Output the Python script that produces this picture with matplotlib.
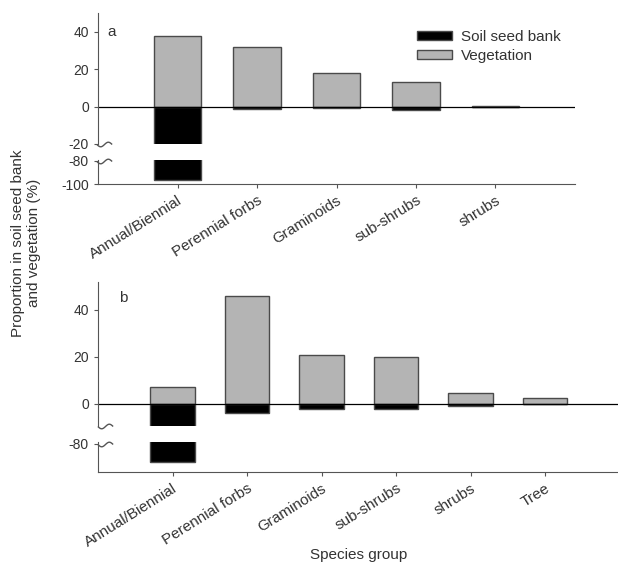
import numpy as np
import matplotlib.pyplot as plt
from matplotlib.path import Path
from matplotlib.patches import Patch

plt.rcParams['font.family'] = ['Liberation Sans', 'DejaVu Sans']
plt.rcParams['font.size'] = 10
plt.rcParams['axes.unicode_minus'] = False

# panel a
groups_a = ["Annual/Biennial", "Perennial forbs", "Graminoids", "sub-shrubs", "shrubs"]
veg_a = [38, 32, 18, 13, 0.5]
seed_a = [-96, -1, -0.5, -2, -0.3]
# panel b
groups_b = ["Annual/Biennial", "Perennial forbs", "Graminoids", "sub-shrubs", "shrubs", "Tree"]
veg_b = [7, 46, 21, 20, 4.5, 2.5]
seed_b = [-91, -4, -2, -2, -1, 0]

gray = "#b4b4b4"
edge = "#4a4a4a"
axcol = "#555555"
txtcol = "#333333"

# squiggle used to mark the axis break
t = np.linspace(-1, 1, 25)
squig = Path(np.column_stack([t, 0.3 * np.sin(np.pi * t)]))

fig = plt.figure(figsize=(6.18, 5.70), dpi=100)


def draw_panel(top_pos, bot_pos, top_lim, bot_lim, top_ticks, bot_ticks,
               groups, veg, seed, xmax):
    ax1 = fig.add_axes(top_pos)
    ax2 = fig.add_axes(bot_pos)
    x = np.arange(len(groups))
    for ax in (ax1, ax2):
        ax.bar(x, veg, width=0.6, color=gray, edgecolor=edge, linewidth=1)
        ax.bar(x, seed, width=0.6, color="black", edgecolor=edge, linewidth=1)
        ax.axhline(0, color="black", linewidth=0.9)
        ax.set_xlim(-1, xmax)
        for s in ("top", "right"):
            ax.spines[s].set_visible(False)
        for s in ("left", "bottom"):
            ax.spines[s].set_color(axcol)
        ax.tick_params(colors=axcol, labelcolor=txtcol, length=3, labelsize=10)
    ax1.spines["bottom"].set_visible(False)
    ax1.set_ylim(*top_lim)
    ax1.set_yticks(top_ticks)
    ax1.set_xticks([])
    ax2.set_ylim(*bot_lim)
    ax2.set_yticks(bot_ticks)
    ax2.set_xticks(x)
    ax2.set_xticklabels(groups, rotation=32, ha="right", rotation_mode="anchor",
                        fontsize=11)
    # break marks
    ax1.plot([0.012], [top_lim[0]], marker=squig, markersize=11, color=axcol,
             transform=ax1.get_yaxis_transform(), clip_on=False,
             markerfacecolor="none", markeredgewidth=1)
    ax2.plot([0.012], [bot_ticks[0]], marker=squig, markersize=11, color=axcol,
             transform=ax2.get_yaxis_transform(), clip_on=False,
             markerfacecolor="none", markeredgewidth=1)
    return ax1, ax2


a1, a2 = draw_panel([0.1586, 0.7474, 0.7718, 0.2303], [0.1586, 0.6767, 0.7718, 0.0429],
                    (-20, 50.3), (-100, -79), [-20, 0, 20, 40], [-80, -100],
                    groups_a, veg_a, seed_a, 5)
a1.text(0.02, 40, "a", transform=a1.get_yaxis_transform(), va="center", color=txtcol,
        fontsize=11)

b1, b2 = draw_panel([0.1586, 0.2526, 0.9644, 0.2532], [0.1586, 0.1719, 0.9644, 0.0520],
                    (-9.4, 52), (-97.5, -79), [0, 20, 40], [-80],
                    groups_b, veg_b, seed_b, 7)
b1.text(0.035, 45, "b", transform=b1.get_yaxis_transform(), va="center", color=txtcol,
        fontsize=11)

handles = [Patch(facecolor="black", edgecolor=edge), Patch(facecolor=gray, edgecolor=edge)]
a1.legend(handles, ["Soil seed bank", "Vegetation"], loc="upper left",
          bbox_to_anchor=(409 / 618, 1 - 22 / 570), bbox_transform=fig.transFigure,
          frameon=False, borderpad=0, handlelength=2.3, handleheight=0.55,
          handletextpad=0.6, labelspacing=0.35, fontsize=11, labelcolor=txtcol)

fig.text(0.042, 0.574, "Proportion in soil seed bank\nand vegetation (%)", rotation=90,
         ha="center", va="center", color=txtcol, fontsize=11, linespacing=1.15)
fig.text(0.581, 0.026, "Species group", ha="center", va="center", color=txtcol,
         fontsize=11)

fig.savefig("out.png", dpi=100)
plt.close(fig)
